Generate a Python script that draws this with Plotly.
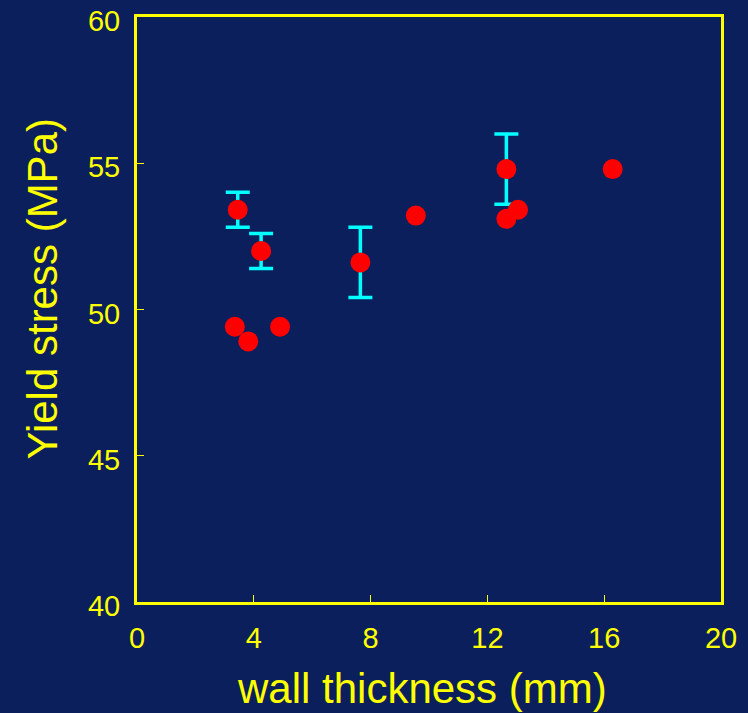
import plotly.graph_objects as go

# Points without error bars
x_plain = [3.35, 3.81, 4.90, 9.55, 12.65, 13.05, 16.29]
y_plain = [49.41, 48.91, 49.41, 53.21, 53.10, 53.41, 54.80]

# Points with error bars
x_err = [3.45, 4.25, 7.65, 12.65]
y_err = [53.41, 52.0, 51.61, 54.80]
err = [0.6, 0.6, 1.2, 1.2]

x_ticks = [0, 4, 8, 12, 16, 20]
y_ticks = [40, 45, 50, 55, 60]

x_title = "wall thickness (mm)"
y_title = "Yield stress (MPa)"

BG = "#0b1f5c"
YEL = "#ffff00"
CYAN = "#00ffff"
RED = "#ff0000"

fig = go.Figure()
fig.add_trace(go.Scatter(
    x=x_err, y=y_err, mode="markers",
    marker=dict(color=RED, size=20),
    error_y=dict(type="data", array=err, color=CYAN, thickness=3.5, width=12),
    showlegend=False,
))
fig.add_trace(go.Scatter(
    x=x_plain, y=y_plain, mode="markers",
    marker=dict(color=RED, size=20),
    showlegend=False,
))

font_family = "Liberation Sans, Arial, sans-serif"
fig.update_layout(
    width=748, height=713,
    paper_bgcolor=BG, plot_bgcolor=BG,
    margin=dict(l=137, r=27, t=17, b=111),
    font=dict(family=font_family, color=YEL),
    annotations=[
        dict(text=x_title, xref="paper", yref="paper", x=0.488, y=-0.1487,
             xanchor="center", yanchor="middle", showarrow=False,
             font=dict(size=42, color=YEL)),
        dict(text=y_title, xref="paper", yref="paper", x=-0.1618, y=0.535,
             xanchor="center", yanchor="middle", showarrow=False, textangle=-90,
             font=dict(size=42, color=YEL)),
    ],
)
fig.update_xaxes(
    range=[0, 20], tickvals=x_ticks, ticktext=[str(v) for v in x_ticks],
    showgrid=False, zeroline=False, automargin=False,
    showline=True, linecolor=YEL, linewidth=3, mirror=True,
    ticks="inside", ticklen=7, tickwidth=1, tickcolor=YEL,
    tickfont=dict(size=29, color=YEL), ticklabelstandoff=8,
)
fig.update_yaxes(
    range=[40, 60], tickvals=y_ticks, ticktext=[str(v) for v in y_ticks],
    showgrid=False, zeroline=False, automargin=False,
    showline=True, linecolor=YEL, linewidth=3, mirror=True,
    ticks="inside", ticklen=7, tickwidth=1, tickcolor=YEL,
    tickfont=dict(size=29, color=YEL), ticklabelstandoff=8, ticklabelshift=4,
)
fig.write_html("out.html", config={"displayModeBar": False},
               post_script="document.body.style.margin='0';")
